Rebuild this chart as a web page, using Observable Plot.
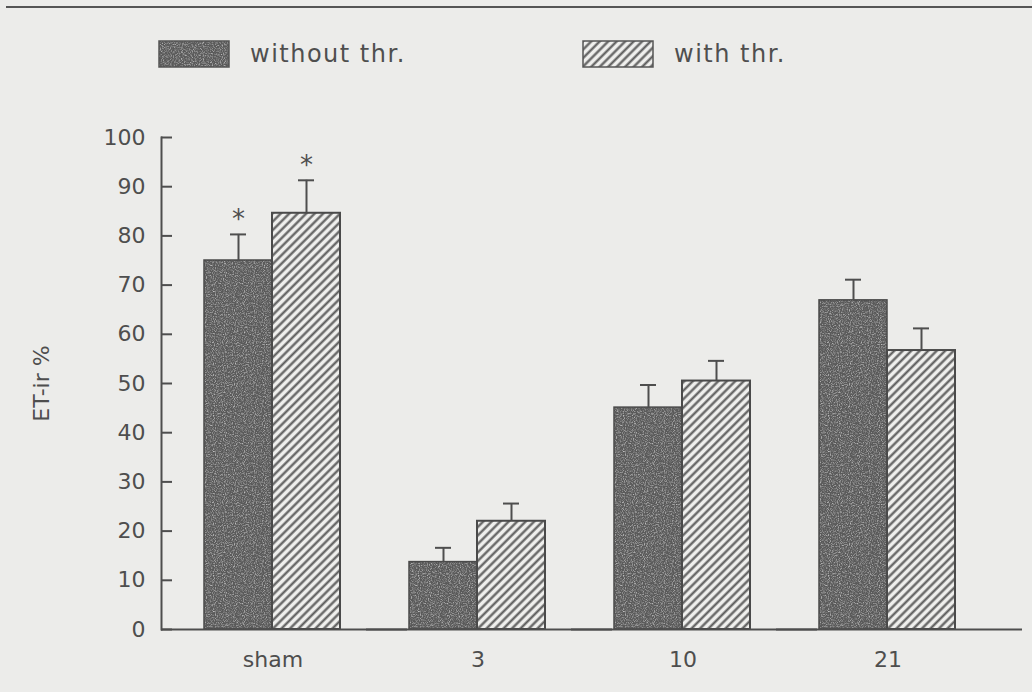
<!DOCTYPE html>
<html>
<head>
<meta charset="utf-8">
<script src="https://cdn.jsdelivr.net/npm/d3@7"></script>
<script src="https://cdn.jsdelivr.net/npm/@observablehq/plot@0.6"></script>
<style>
  body { margin: 0; background: #ececea; }
  #wrap { position: relative; width: 1032px; height: 692px; overflow: hidden; background: #ececea;
          font-family: "DejaVu Sans", sans-serif; color: #555; }
  #topline { position: absolute; left: 6px; right: 0; top: 6px; height: 2px; background: #555; }
  .item { position: absolute; top: 40px; display: flex; align-items: center; font-size: 24px; letter-spacing: 1.5px; color: #4f4f4f; }
  .item svg { display: block; margin-right: 20px; }
  #chart { position: absolute; left: 0; top: 0; }
</style>
</head>
<body>
<div id="wrap">
  <div id="topline"></div>
  <div id="chart"></div>
  <div id="legend"></div>
</div>
<script>
// ---- data ----
const categories = ["sham", "3", "10", "21"];
const series = ["without thr.", "with thr."];
const withoutValues = [75.0, 13.7, 45.1, 66.9];
const withoutSE     = [5.3, 2.9, 4.6, 4.2];
const withValues    = [84.6, 22.0, 50.5, 56.7];
const withSE        = [6.7, 3.6, 4.1, 4.5];
const starred       = ["sham"];           // significance asterisks
const yTicks        = [0, 10, 20, 30, 40, 50, 60, 70, 80, 90, 100];
const yLabel        = "ET-ir %";

const rows = categories.flatMap((c, i) => [
  {cat: c, series: series[0], value: withoutValues[i], hi: withoutValues[i] + withoutSE[i]},
  {cat: c, series: series[1], value: withValues[i], hi: withValues[i] + withSE[i]}
]);
const stars = rows.filter(d => starred.includes(d.cat));

const ink = "#4e4e4e";

const chart = Plot.plot({
  width: 1032,
  height: 692,
  marginTop: 137,
  marginBottom: 63,
  marginLeft: 161,
  marginRight: 51,
  style: {background: "transparent", color: ink, fontFamily: "DejaVu Sans, sans-serif", fontSize: "22px"},
  fx: {domain: categories, padding: 0, label: null},
  x: {domain: series, paddingInner: 0, paddingOuter: 0.496, align: 0.62, axis: null},
  y: {domain: [0, 100], axis: null},
  marks: [
    Plot.barY(rows.filter(d => d.series === series[0]), {fx: "cat", x: "series", y: "value", fill: "url(#darkfill)", stroke: "#4a4a4a", strokeWidth: 1.5}),
    Plot.barY(rows.filter(d => d.series === series[1]), {fx: "cat", x: "series", y: "value", fill: "url(#hatch)", stroke: "#4a4a4a", strokeWidth: 2}),
    Plot.ruleX(rows, {fx: "cat", x: "series", y1: "value", y2: "hi", stroke: ink, strokeWidth: 2}),
    Plot.tickY(rows, {fx: "cat", x: "series", y: "hi", stroke: ink, strokeWidth: 2, insetLeft: 26, insetRight: 26}),
    Plot.text(stars, {fx: "cat", x: "series", y: "hi", text: () => "*", dy: -6, lineAnchor: "bottom", fontSize: 26, fill: ink}),
    Plot.ruleY([0], {stroke: ink, strokeWidth: 2, insetRight: -41}),
    Plot.frame({anchor: "left", facetAnchor: "left", stroke: ink, strokeWidth: 2}),
    Plot.axisY({ticks: yTicks, tickSize: -11, tickPadding: 27, strokeWidth: 2, stroke: ink,
                label: yLabel, labelAnchor: "center", labelOffset: 128, labelArrow: "none", fontSize: 22}),
    Plot.axisFx({anchor: "bottom", tickSize: 0, tickPadding: 22, label: null, dx: 9, fontSize: 22})
  ]
});

// patterns (hatch + speckled dark fill)
const defs = d3.select(chart).insert("defs", ":first-child");
const hatch = defs.append("pattern").attr("id", "hatch").attr("patternUnits", "userSpaceOnUse")
  .attr("width", 6).attr("height", 6).attr("patternTransform", "rotate(45)");
hatch.append("rect").attr("width", 6).attr("height", 6).attr("fill", "#efefed");
hatch.append("line").attr("x1", 1.5).attr("y1", 0).attr("x2", 1.5).attr("y2", 6).attr("stroke", "#5a5a5a").attr("stroke-width", 2.2);

const f = defs.append("filter").attr("id", "speckle").attr("x", 0).attr("y", 0).attr("width", "100%").attr("height", "100%");
f.append("feTurbulence").attr("type", "fractalNoise").attr("baseFrequency", 0.9).attr("numOctaves", 2).attr("seed", 4).attr("result", "n");
f.append("feColorMatrix").attr("in", "n").attr("type", "matrix")
  .attr("values", "0 0 0 0 1  0 0 0 0 1  0 0 0 0 1  1.4 0 0 0 -0.62");
const dark = defs.append("pattern").attr("id", "darkfill").attr("patternUnits", "userSpaceOnUse").attr("width", 160).attr("height", 160);
dark.append("rect").attr("width", 160).attr("height", 160).attr("fill", "#5a5a5a");
dark.append("rect").attr("width", 160).attr("height", 160).attr("filter", "url(#speckle)");

document.getElementById("chart").appendChild(chart);

// legend
const legendPos = [158, 582];
const legendFill = ["url(#darkfill)", "url(#hatch)"];
series.forEach((s, i) => {
  const div = document.createElement("div");
  div.className = "item";
  div.style.left = legendPos[i] + "px";
  div.innerHTML = `<svg width="72" height="28"><rect x="1" y="1" width="70" height="26" fill="${legendFill[i]}" stroke="#555" stroke-width="1.5"/></svg><span>${s}</span>`;
  document.getElementById("legend").appendChild(div);
});
</script>
</body>
</html>
